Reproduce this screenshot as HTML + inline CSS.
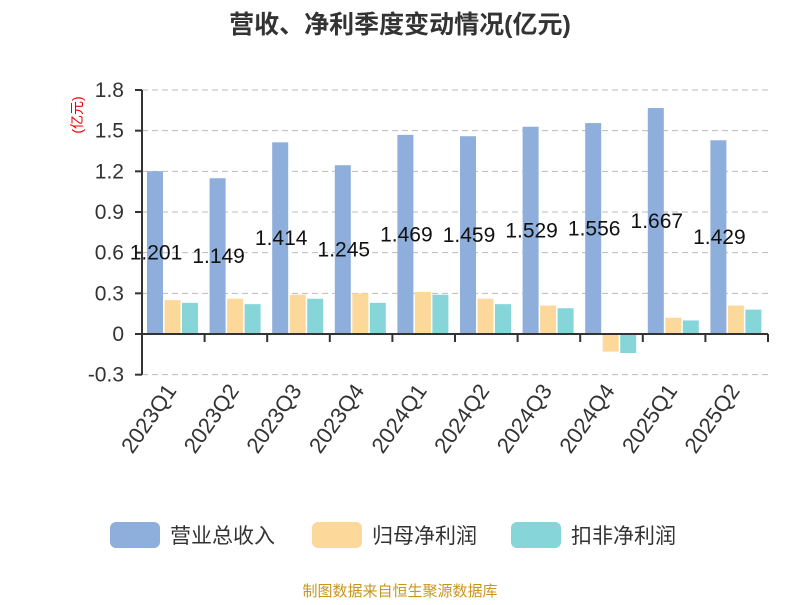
<!DOCTYPE html>
<html><head><meta charset="utf-8"><style>
body{margin:0;background:#fff;font-family:"Liberation Sans","Noto Sans CJK SC",sans-serif}
</style></head><body>
<svg width="800" height="600" xmlns="http://www.w3.org/2000/svg" font-family="Liberation Sans, Noto Sans CJK SC, sans-serif">
<text x="400" y="33" text-anchor="middle" font-size="25" font-weight="bold" fill="#333">营收、净利季度变动情况(亿元)</text>
<text transform="translate(82,115) rotate(-90)" text-anchor="middle" font-size="14" fill="#e00">(亿元)</text>
<g id="grid"></g><g id="bars"></g><g id="axis"></g><g id="labels"></g>
<g>
<rect x="110" y="522" width="50" height="26" rx="6" fill="#8eaedb"/>
<text x="170" y="543" font-size="21" fill="#333">营业总收入</text>
<rect x="312" y="522" width="50" height="26" rx="6" fill="#fdd89b"/>
<text x="372" y="543" font-size="21" fill="#333">归母净利润</text>
<rect x="511" y="522" width="50" height="26" rx="6" fill="#86d5d8"/>
<text x="571" y="543" font-size="21" fill="#333">扣非净利润</text>
</g>
<text x="400" y="596" text-anchor="middle" font-size="15" fill="#c8961e">制图数据来自恒生聚源数据库</text>
</svg>
<script>
const categories=["2023Q1","2023Q2","2023Q3","2023Q4","2024Q1","2024Q2","2024Q3","2024Q4","2025Q1","2025Q2"];
const revenue=[1.201,1.149,1.414,1.245,1.469,1.459,1.529,1.556,1.667,1.429];
const netProfit=[0.25,0.26,0.29,0.30,0.31,0.26,0.21,-0.13,0.12,0.21];
const deducted=[0.23,0.22,0.26,0.23,0.29,0.22,0.19,-0.14,0.10,0.18];
const yTicks=[-0.3,0,0.3,0.6,0.9,1.2,1.5,1.8];
const NS="http://www.w3.org/2000/svg";
const x0=142,x1=768,band=(x1-x0)/categories.length;
const y=v=>334-v*(244/1.8);
function mk(t,a,p){const e=document.createElementNS(NS,t);for(const k in a)e.setAttribute(k,a[k]);p.appendChild(e);return e;}
const G=document.getElementById('grid'),B=document.getElementById('bars'),A=document.getElementById('axis'),L=document.getElementById('labels');
yTicks.forEach(t=>{
 if(t!==0){const l=mk('line',{x1:x0,x2:x1,y1:y(t),y2:y(t),stroke:'#bbb','stroke-dasharray':'6,4'},G);
 
 }
 const yt=mk('line',{x1:x0-7,x2:x0,y1:y(t),y2:y(t),stroke:'#333','stroke-width':2},A);
 
 
 const tx=mk('text',{x:124,y:y(t)+7,'text-anchor':'end','font-size':21,fill:'#333'},A);tx.textContent=t===0?'0':t.toFixed(1);
 
 
});
const ya=mk('line',{x1:x0,x2:x0,y1:y(1.8),y2:y(-0.3),stroke:'#333','stroke-width':2},A);


const ax=mk('line',{x1:x0,x2:x1,y1:y(0),y2:y(0),stroke:'#333','stroke-width':2},A);


const series=[[revenue,'#8eaedb','bar-revenue'],[netProfit,'#fdd89b','bar-net-profit'],[deducted,'#86d5d8','bar-deducted']];
categories.forEach((c,i)=>{
 const bx=x0+i*band;
 if(i>0){const tk=mk('line',{x1:bx,x2:bx,y1:y(0),y2:y(0)+8,stroke:'#333','stroke-width':2},A);
 
 }
 series.forEach((s,j)=>{
  const v=s[0][i],top=Math.min(y(v),y(0)),h=Math.abs(y(v)-y(0));
  const r=mk('rect',{x:bx+5+j*17.5,y:top,width:16,height:h,fill:s[1]},B);
  
  
 });
 const lb=mk('text',{x:bx+14,y:(y(revenue[i])+y(0))/2+7,'text-anchor':'middle','font-size':21,fill:'#111'},L);lb.textContent=revenue[i].toFixed(3);
 
 
 const cx=bx+band/2+4;
 const xl=mk('text',{transform:`translate(${cx},${y(-0.3)+16}) rotate(-55)`,'text-anchor':'end','font-size':22,fill:'#333'},A);xl.textContent=c;
 
 
});
const et=mk('line',{x1:x1,x2:x1,y1:y(0),y2:y(0)+8,stroke:'#333','stroke-width':2},A);


</script>
</body></html>
